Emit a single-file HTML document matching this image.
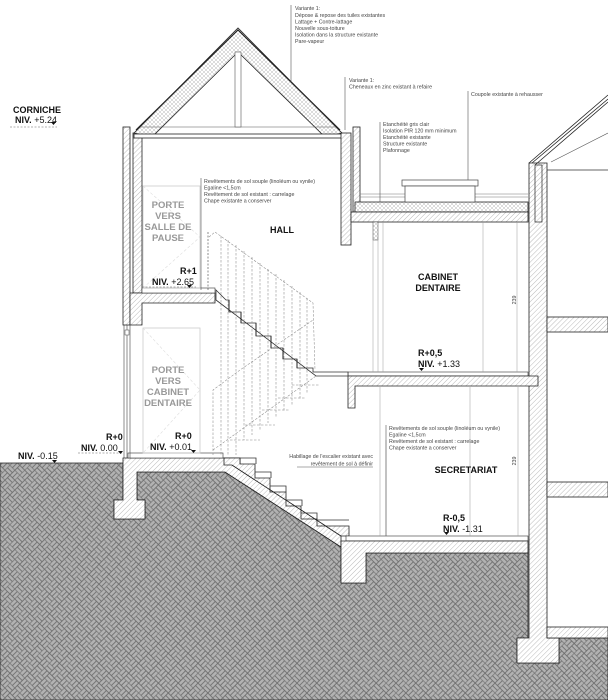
<!DOCTYPE html>
<html><head><meta charset="utf-8"><style>
html,body{margin:0;padding:0;background:#fff}
svg{display:block}
text{font-family:"Liberation Sans",sans-serif}
.n{font-size:5.3px;fill:#444}
.b{font-size:9px;font-weight:bold;fill:#111}
.g{font-size:9.5px;font-weight:bold;fill:#999}
.lv{font-size:9px;fill:#111}
</style></head><body>
<svg width="608" height="700" viewBox="0 0 608 700" xmlns="http://www.w3.org/2000/svg">
<defs>
<pattern id="h" width="3.5" height="3.5" patternUnits="userSpaceOnUse" patternTransform="rotate(45)">
<rect width="3.5" height="3.5" fill="#fff"/><line x1="0" y1="0" x2="0" y2="3.5" stroke="#666" stroke-width="0.45"/>
</pattern>
<pattern id="ins" width="4" height="4" patternUnits="userSpaceOnUse">
<rect width="4" height="4" fill="#fff"/><path d="M0 0L4 4M4 0L0 4" stroke="#999" stroke-width="0.35"/>
</pattern>
<pattern id="gr" width="14" height="14" patternUnits="userSpaceOnUse" patternTransform="rotate(45)">
<rect width="14" height="14" fill="#b2b2b2"/>
<g fill="none" stroke="#6a6a6a" stroke-width="0.6">
<rect x="0" y="0" width="7" height="3.5"/><rect x="0" y="3.5" width="7" height="3.5"/>
<rect x="7" y="0" width="3.5" height="7"/><rect x="10.5" y="0" width="3.5" height="7"/>
<rect x="0" y="7" width="3.5" height="7"/><rect x="3.5" y="7" width="3.5" height="7"/>
<rect x="7" y="7" width="7" height="3.5"/><rect x="7" y="10.5" width="7" height="3.5"/>
</g>
</pattern>
</defs>
<rect width="608" height="700" fill="#fff"/>

<path d="M0 463 L123 463 L123 500 L114 500 L114 519 L145 519 L145 500 L137 500 L137 472 L225 472 L341 547 L341 583 L366 583 L366 553 L528 553 L528 638 L517 638 L517 663 L559 663 L559 638 L547 638 L608 638 L608 700 L0 700 Z" fill="url(#gr)" stroke="#222" stroke-width="0.8"/>

<path d="M123 458 L240 458 L240 465 L232 465 L341 536 L341 547 L225 472 L137 472 L137 500 L145 500 L145 519 L114 519 L114 500 L123 500 Z" fill="url(#h)" stroke="#222" stroke-width="0.8"/>
<rect x="128" y="453" width="95" height="5" fill="#fff" stroke="#333" stroke-width="0.6"/>
<path d="M224 458 L240 458 L240 464 L255 464 L255 478 L270 478 L270 492 L286 492 L286 506 L301 506 L301 519 L317 519 L317 526 L349 526 L349 536 L341 536 L232 465 L224 465 Z" fill="url(#h)" stroke="#222" stroke-width="0.8"/>
<path d="M240 458 l16 0 0 6 M255 472 l16 0 0 6 M270 486 l16 0 0 6 M286 500 l16 0 0 6 M301 513 l16 0 0 6 M317 520 l32 0" stroke="#333" stroke-width="0.8" fill="none"/>

<rect x="346" y="536" width="182" height="5" fill="#fff" stroke="#333" stroke-width="0.6"/>
<path d="M341 541 L528 541 L528 553 L366 553 L366 583 L341 583 Z" fill="url(#h)" stroke="#222" stroke-width="0.8"/>

<path d="M529 163 L547 163 L547 638 L559 638 L559 663 L517 663 L517 638 L529 638 Z" fill="url(#h)" stroke="#222" stroke-width="0.8"/>
<rect x="547" y="317" width="61" height="15" fill="url(#h)" stroke="#222" stroke-width="0.8"/>
<rect x="547" y="482" width="61" height="15" fill="url(#h)" stroke="#222" stroke-width="0.8"/>
<rect x="547" y="627" width="61" height="11" fill="url(#h)" stroke="#222" stroke-width="0.8"/>
<line x1="547" y1="170" x2="608" y2="170" stroke="#333" stroke-width="0.8"/>
<path d="M529 163 L608 95 M532 163 L608 99 M535 165 L608 102" stroke="#222" stroke-width="0.8" fill="none"/>
<line x1="551" y1="162" x2="608" y2="133" stroke="#555" stroke-width="0.6"/>
<rect x="535" y="165" width="7" height="57" fill="url(#h)" stroke="#222" stroke-width="0.7"/>

<rect x="348" y="372" width="180" height="4" fill="#fff" stroke="#333" stroke-width="0.6"/>
<path d="M348 376 L538 376 L538 386 L355 386 L355 408 L348 408 Z" fill="url(#h)" stroke="#222" stroke-width="0.8"/>

<rect x="123" y="127" width="7" height="198" fill="url(#h)" stroke="#222" stroke-width="0.8"/>
<rect x="133" y="133" width="9" height="160" fill="url(#h)" stroke="#222" stroke-width="0.8"/>
<path d="M130 293 L215 293 L215 303 L142 303 L142 325 L130 325 Z" fill="url(#h)" stroke="#222" stroke-width="0.8"/>
<rect x="142" y="288" width="73" height="5" fill="#fff" stroke="#333" stroke-width="0.6"/>
<path d="M124 325 L124 458 M127 325 L127 458 M130 325 L130 458" stroke="#444" stroke-width="0.6"/>
<rect x="125" y="330" width="4" height="5" fill="#fff" stroke="#444" stroke-width="0.5"/>

<path d="M134 133 L238 28 L342 133 L325 137 L238 52 L152 137 Z" fill="url(#ins)" stroke="#222" stroke-width="0.8"/>
<path d="M136 130 L238 30 L340 130" fill="none" stroke="#222" stroke-width="1.2"/>
<rect x="134" y="134" width="208" height="4" fill="#fff" stroke="#222" stroke-width="0.8"/>
<line x1="140" y1="127" x2="336" y2="127" stroke="#555" stroke-width="0.6"/>
<rect x="235" y="52" width="6" height="75" fill="#fff" stroke="#555" stroke-width="0.6"/>

<rect x="353" y="127" width="7" height="85" fill="url(#h)" stroke="#222" stroke-width="0.8"/>
<rect x="341" y="133" width="10" height="112" fill="url(#h)" stroke="#222" stroke-width="0.8"/>
<rect x="355" y="202" width="173" height="10" fill="url(#ins)" stroke="#222" stroke-width="0.8"/>
<rect x="351" y="212" width="177" height="10" fill="url(#h)" stroke="#222" stroke-width="0.8"/>
<path d="M360 194 L528 194 M360 197 L528 197" stroke="#777" stroke-width="0.5"/>
<rect x="402" y="180" width="76" height="6" fill="#fff" stroke="#444" stroke-width="0.7"/>
<rect x="405" y="186" width="70" height="16" fill="#fff" stroke="#444" stroke-width="0.7"/>
<rect x="373" y="222" width="5" height="18" fill="url(#ins)" stroke="#444" stroke-width="0.5"/>
<path d="M373 240 L373 372 M378 240 L378 372 M383 222 L383 372 M517 222 L517 372 M483 222 L483 372 M380 387 L380 536 M518 387 L518 536 M470 387 L470 536 M386 440 L386 536" stroke="#999" stroke-width="0.5"/>
<rect x="143" y="186" width="57" height="102" fill="none" stroke="#ccc" stroke-width="0.8"/>
<path d="M143 186 L200 237 L143 288" fill="none" stroke="#ddd" stroke-width="0.6" stroke-dasharray="3 2"/>
<rect x="143" y="328" width="57" height="125" fill="none" stroke="#ccc" stroke-width="0.8"/>
<path d="M143 328 L200 390 L143 453" fill="none" stroke="#ddd" stroke-width="0.6" stroke-dasharray="3 2"/>

<path d="M216 290 L226 300 L229 300 L229 312 L241 312 L241 323 L256 323 L256 336 L271 336 L271 348 L283 348 L283 359 L297 359 L297 368 L313 368 L313 372 L348 372 L348 376 L316 376 L216 300 Z" fill="#fff" stroke="#333" stroke-width="0.8"/>
<path d="M229 300 L229 312 M241 312 L241 323 M256 323 L256 336 M271 336 L271 348 M283 348 L283 359 M297 359 L297 368" stroke="#222" stroke-width="1"/>
<g stroke="#888" stroke-width="0.55" stroke-dasharray="2.5 1.5" fill="none">
<path d="M209 237 L215 232 L313 303 L315 370"/>
<path d="M213 455 L213 390 L240 370 L313 320"/>
<path d="M221 236 L221 455 M228 240 L228 455 M236 245 L236 455 M244 251 L244 440 M252 257 L252 435 M260 263 L260 430 M268 269 L268 423 M276 274 L276 418 M284 280 L284 412 M292 286 L292 405 M300 292 L300 400 M307 298 L307 393"/>
<path d="M230 440 L260 440 M245 425 L275 425 M262 410 L290 410 M278 398 L305 398 M292 385 L320 385"/>
<path d="M213 450 L316 376"/>
</g>
<path d="M208 232 L208 290" stroke="#444" stroke-width="0.6" stroke-dasharray="2 1.5"/>

<g stroke="#555" stroke-width="0.6">
<line x1="291" y1="5" x2="291" y2="82"/>
<line x1="345" y1="77" x2="345" y2="130"/>
<line x1="468" y1="91" x2="468" y2="180"/>
<line x1="380" y1="122" x2="380" y2="202"/>
<line x1="201" y1="178" x2="201" y2="290"/>
<line x1="386" y1="425" x2="386" y2="536"/>
<line x1="297" y1="467" x2="373" y2="467"/>
</g>

<g stroke="#666" stroke-width="0.6" stroke-dasharray="2 1.5">
<line x1="10" y1="127" x2="57" y2="127"/>
<line x1="142" y1="287" x2="196" y2="287"/>
<line x1="78" y1="453" x2="122" y2="453"/>
</g>
<g fill="#111">
<path d="M51 122 l5 0 -2.5 3z"/><path d="M187 285 l5 0 -2.5 3z"/><path d="M118 451 l5 0 -2.5 3z"/>
<path d="M191 450 l5 0 -2.5 3z"/><path d="M52 460 l5 0 -2.5 3z"/><path d="M419 368 l5 0 -2.5 3z"/><path d="M444 532 l5 0 -2.5 3z"/>
</g>

<text class="n" x="295" y="10">Variante 1:</text>
<text class="n" x="295" y="17">Dépose &amp; repose des tuiles existantes</text>
<text class="n" x="295" y="23.5">Lattage + Contre-lattage</text>
<text class="n" x="295" y="30">Nouvelle sous-toiture</text>
<text class="n" x="295" y="36.5">Isolation dans la structure existante</text>
<text class="n" x="295" y="43">Pare-vapeur</text>
<text class="n" x="349" y="82">Variante 1:</text>
<text class="n" x="349" y="88.5">Cheneaux en zinc existant à refaire</text>
<text class="n" x="471" y="96">Coupole existante à rehausser</text>
<text class="n" x="383" y="126">Etanchéité gris clair</text>
<text class="n" x="383" y="132.5">Isolation PIR 120 mm minimum</text>
<text class="n" x="383" y="139">Etanchéité existante</text>
<text class="n" x="383" y="145.5">Structure existante</text>
<text class="n" x="383" y="152">Plafonnage</text>
<text class="n" x="204" y="183">Revêtements de sol souple (linoléum ou vynile)</text>
<text class="n" x="204" y="189.5">Egaline &lt;1,5cm</text>
<text class="n" x="204" y="196">Revêtement de sol existant : carrelage</text>
<text class="n" x="204" y="202.5">Chape existante a conserver</text>
<text class="n" x="389" y="430">Revêtements de sol souple (linoléum ou vynile)</text>
<text class="n" x="389" y="436.5">Egaline &lt;1,5cm</text>
<text class="n" x="389" y="443">Revêtement de sol existant : carrelage</text>
<text class="n" x="389" y="449.5">Chape existante a conserver</text>
<text class="n" x="373" y="458" text-anchor="end">Habillage de l'escalier existant avec</text>
<text class="n" x="373" y="465.5" text-anchor="end">revêtement de sol à définir</text>

<text class="b" x="13" y="113">CORNICHE</text>
<text class="lv" x="15" y="123"><tspan font-weight="bold">NIV.</tspan> +5.24</text>
<text class="g" x="168" y="208" text-anchor="middle">PORTE</text>
<text class="g" x="168" y="219" text-anchor="middle">VERS</text>
<text class="g" x="168" y="230" text-anchor="middle">SALLE DE</text>
<text class="g" x="168" y="241" text-anchor="middle">PAUSE</text>
<text class="b" x="282" y="233" text-anchor="middle">HALL</text>
<text class="b" x="180" y="274">R+1</text>
<text class="lv" x="152" y="285"><tspan font-weight="bold">NIV.</tspan> +2.65</text>
<text class="b" x="438" y="280" text-anchor="middle">CABINET</text>
<text class="b" x="438" y="291" text-anchor="middle">DENTAIRE</text>
<text class="n" x="0" y="0" transform="translate(516 300) rotate(-90)" text-anchor="middle">239</text>
<text class="n" x="0" y="0" transform="translate(516 461) rotate(-90)" text-anchor="middle">239</text>
<text class="b" x="418" y="356">R+0,5</text>
<text class="lv" x="418" y="367"><tspan font-weight="bold">NIV.</tspan> +1.33</text>
<text class="g" x="168" y="373" text-anchor="middle">PORTE</text>
<text class="g" x="168" y="384" text-anchor="middle">VERS</text>
<text class="g" x="168" y="395" text-anchor="middle">CABINET</text>
<text class="g" x="168" y="406" text-anchor="middle">DENTAIRE</text>
<text class="b" x="106" y="440">R+0</text>
<text class="lv" x="81" y="451"><tspan font-weight="bold">NIV.</tspan> 0.00</text>
<text class="b" x="175" y="439">R+0</text>
<text class="lv" x="150" y="450"><tspan font-weight="bold">NIV.</tspan> +0.01</text>
<text class="lv" x="18" y="459"><tspan font-weight="bold">NIV.</tspan> -0.15</text>
<text class="b" x="466" y="473" text-anchor="middle">SECRETARIAT</text>
<text class="b" x="443" y="521">R-0,5</text>
<text class="lv" x="443" y="532"><tspan font-weight="bold">NIV.</tspan> -1.31</text>
</svg>
</body></html>
